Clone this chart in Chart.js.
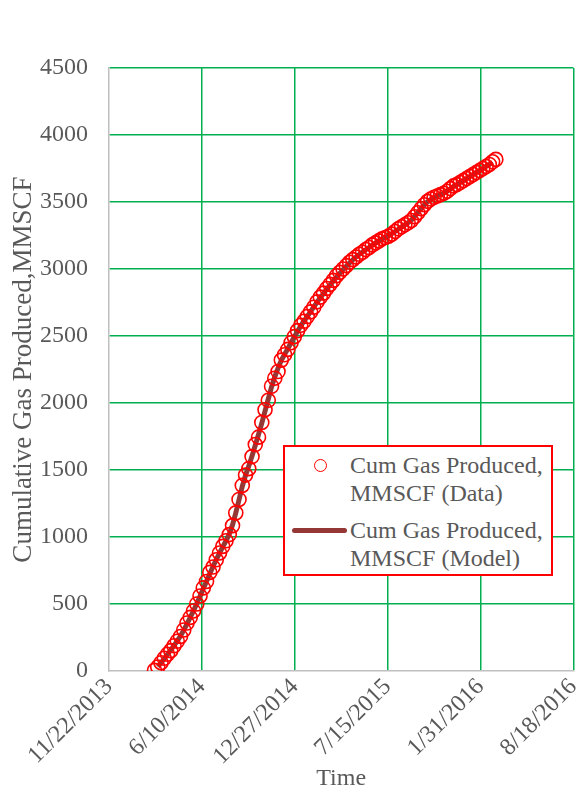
<!DOCTYPE html>
<html>
<head>
<meta charset="utf-8">
<script src="https://cdn.jsdelivr.net/npm/chart.js@4/dist/chart.umd.min.js"></script>
<style>
  html, body { margin: 0; padding: 0; background: #fff; }
  #wrap { position: relative; width: 582px; height: 793px; overflow: hidden; }
  #c { position: absolute; left: 0; top: 0; }
  .leg { position: absolute; font-family: 'Liberation Serif', 'Times New Roman', serif; font-size: 24px; line-height: 28px; color: #595959; white-space: nowrap; }
</style>
</head>
<body>
<div id="wrap">
  <canvas id="c" width="582" height="793"></canvas>
  <div style="position:absolute;left:283px;top:445px;width:270px;height:131px;border:2px solid #FF0000;box-sizing:border-box;background:#fff;"></div>
  <div style="position:absolute;left:313.5px;top:458.5px;width:13px;height:13px;border:1.5px solid #FF0000;border-radius:50%;box-sizing:border-box;"></div>
  <div class="leg" style="left:350px;top:451px;">Cum Gas Produced,<br>MMSCF (Data)</div>
  <div style="position:absolute;left:292px;top:527.5px;width:55px;height:5px;background:#953735;border-radius:2.5px;"></div>
  <div class="leg" style="left:350px;top:516px;">Cum Gas Produced,<br>MMSCF (Model)</div>
</div>
<script>
// ---- data ----
const dates = [
  "2014-02-28","2014-03-07","2014-03-14","2014-03-21","2014-03-28","2014-04-04","2014-04-11","2014-04-18","2014-04-25","2014-05-02",
  "2014-05-09","2014-05-16","2014-05-23","2014-05-30","2014-06-06","2014-06-13","2014-06-20","2014-06-27","2014-07-04","2014-07-11",
  "2014-07-18","2014-07-25","2014-08-01","2014-08-08","2014-08-15","2014-08-22","2014-08-29","2014-09-05","2014-09-12","2014-09-19",
  "2014-09-26","2014-10-03","2014-10-10","2014-10-17","2014-10-24","2014-10-31","2014-11-07","2014-11-14","2014-11-21","2014-11-28",
  "2014-12-05","2014-12-12","2014-12-19","2014-12-26","2015-01-02","2015-01-09","2015-01-16","2015-01-23","2015-01-30","2015-02-06",
  "2015-02-13","2015-02-20","2015-02-27","2015-03-06","2015-03-13","2015-03-20","2015-03-27","2015-04-03","2015-04-10","2015-04-17",
  "2015-04-24","2015-05-01","2015-05-08","2015-05-15","2015-05-22","2015-05-29","2015-06-05","2015-06-12","2015-06-19","2015-06-26",
  "2015-07-03","2015-07-10","2015-07-17","2015-07-24","2015-07-31","2015-08-07","2015-08-14","2015-08-21","2015-08-28","2015-09-04",
  "2015-09-11","2015-09-18","2015-09-25","2015-10-02","2015-10-09","2015-10-16","2015-10-23","2015-10-30","2015-11-06","2015-11-13",
  "2015-11-20","2015-11-27","2015-12-04","2015-12-11","2015-12-18","2015-12-25","2016-01-01","2016-01-08","2016-01-15","2016-01-22",
  "2016-01-29","2016-02-05","2016-02-12","2016-02-19","2016-02-26","2016-03-04"
];
const cumGasData = [
  5,30,62,95,125,152,188,222,258,306,
  358,400,448,500,560,620,668,736,776,830,
  881,930,972,1018,1085,1180,1280,1385,1462,1510,
  1600,1690,1745,1855,1950,2020,2125,2185,2235,2320,
  2360,2400,2450,2495,2540,2580,2610,2645,2680,2715,
  2755,2790,2820,2855,2885,2915,2950,2975,3000,3025,
  3050,3070,3090,3110,3125,3145,3160,3180,3195,3210,
  3225,3235,3245,3260,3280,3300,3315,3330,3345,3362,
  3390,3420,3450,3480,3505,3522,3535,3545,3555,3565,
  3580,3600,3620,3630,3645,3660,3675,3690,3705,3720,
  3735,3750,3765,3780,3800,3818
];
const cumGasModel = [
  null,32,60,92,124,156,190,225,262,305,
  352,400,450,503,558,614,670,726,780,832,
  880,926,972,1022,1090,1180,1278,1378,1460,1530,
  1605,1685,1765,1850,1940,2030,2120,2195,2260,2318,
  2362,2405,2450,2493,2535,2575,2612,2647,2682,2717,
  2752,2786,2818,2850,2881,2911,2940,2968,2995,3021,
  3046,3069,3090,3109,3127,3144,3161,3178,3194,3209,
  3223,3236,3249,3263,3280,3297,3313,3329,3345,3364,
  3392,3420,3450,3478,3503,3519,3533,3545,3556,3567,
  3581,3598,3616,3630,3645,3660,3675,3690,3705,3720,
  3735,3750,3765,3780,3797,null
];
const xTickLabels = ["11/22/2013","6/10/2014","12/27/2014","7/15/2015","1/31/2016","8/18/2016"];
const yTickLabels = [0,500,1000,1500,2000,2500,3000,3500,4000,4500];

// ---- helpers ----
const DAY = 864e5;
function toDay(s) {
  const p = s.split('-').map(Number);
  return Date.UTC(p[0], p[1] - 1, p[2]) / DAY;
}
function usToDay(s) {
  const p = s.split('/').map(Number);
  return Date.UTC(p[2], p[0] - 1, p[1]) / DAY;
}
function fmt(day) {
  const d = new Date(Math.round(day) * DAY);
  return (d.getUTCMonth() + 1) + '/' + d.getUTCDate() + '/' + d.getUTCFullYear();
}
const xMin = usToDay(xTickLabels[0]);
const xMax = usToDay(xTickLabels[xTickLabels.length - 1]);
const xStep = usToDay(xTickLabels[1]) - xMin;

const dataPts = dates.map((s, i) => ({ x: toDay(s), y: cumGasData[i] }));
const modelPts = dates.map((s, i) => ({ x: toDay(s), y: cumGasModel[i] }));

const FONT = "'Liberation Serif', 'Times New Roman', serif";
const TXT = '#595959';
const GREEN = '#00B050';

new Chart(document.getElementById('c'), {
  type: 'scatter',
  data: {
    datasets: [
      {
        label: 'Cum Gas Produced, MMSCF (Data)',
        data: dataPts,
        showLine: false,
        pointStyle: 'circle',
        pointRadius: 7,
        pointBorderWidth: 1.6,
        pointBorderColor: '#FF0000',
        pointBackgroundColor: 'rgba(0,0,0,0)',
        order: 0
      },
      {
        label: 'Cum Gas Produced, MMSCF (Model)',
        data: modelPts,
        showLine: true,
        borderColor: '#953735',
        borderWidth: 5,
        pointRadius: 0,
        tension: 0,
        spanGaps: false,
        order: 1
      }
    ]
  },
  options: {
    responsive: false,
    animation: false,
    devicePixelRatio: 1,
    layout: { padding: { left: 0, right: 6, top: 68, bottom: 0 } },
    plugins: { legend: { display: false }, tooltip: { enabled: false } },
    scales: {
      x: {
        type: 'linear',
        min: xMin,
        max: xMax,
        ticks: {
          stepSize: xStep,
          autoSkip: false,
          maxRotation: 45,
          minRotation: 45,
          padding: 2,
          color: TXT,
          font: { family: FONT, size: 24 },
          callback: (v) => fmt(v)
        },
        grid: {
          color: (c) => (c.index === 0 ? 'rgba(0,0,0,0)' : GREEN),
          lineWidth: 1.5,
          drawTicks: false
        },
        border: { color: '#BFBFBF', width: 1.5 },
        title: {
          display: true,
          text: 'Time',
          color: TXT,
          font: { family: FONT, size: 24 },
          padding: { top: 0, bottom: 0 }
        },
        afterFit: (s) => { s.height = 122; s.paddingLeft = 0; s.paddingRight = 0; }
      },
      y: {
        min: 0,
        max: 4500,
        ticks: {
          stepSize: 500,
          padding: 21,
          color: TXT,
          font: { family: FONT, size: 24 },
          callback: (v) => String(v)
        },
        grid: {
          color: (c) => (c.index === 0 ? 'rgba(0,0,0,0)' : GREEN),
          lineWidth: 1.5,
          drawTicks: false
        },
        border: { color: '#BFBFBF', width: 1.5 },
        title: {
          display: true,
          text: 'Cumulative Gas Produced,MMSCF',
          color: TXT,
          font: { family: FONT, size: 27 },
          padding: { top: 8, bottom: 0 }
        },
        afterFit: (s) => { s.width = 109; s.paddingTop = 0; s.paddingBottom = 0; }
      }
    }
  }
});
</script>
</body>
</html>
